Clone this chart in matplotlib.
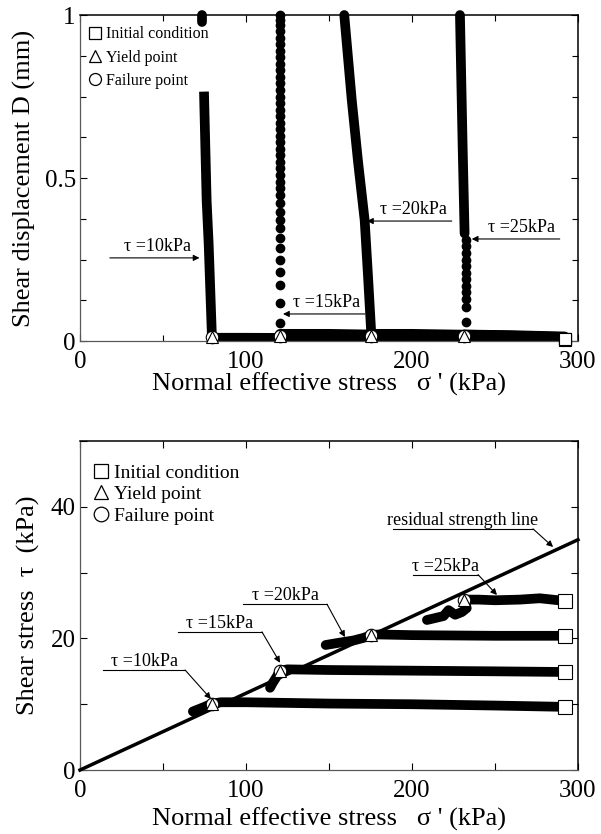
import numpy as np
import matplotlib
matplotlib.use("Agg")
import matplotlib.pyplot as plt
from matplotlib.lines import Line2D

plt.rcParams['font.family'] = ['Liberation Serif', 'DejaVu Serif']
plt.rcParams['mathtext.fontset'] = 'stix'

# ---- data ----
tau_levels = [10, 15, 20, 25]
init_sig = [292, 292, 292, 292]
init_tau = [9.6, 14.9, 20.4, 25.7]
init_D = [0.004, 0.006, 0.006, 0.006]
yield_sig = [79.5, 120.5, 175.5, 231.5]
yield_tau = [10.1, 15.1, 20.5, 25.9]
yield_D = [0.012, 0.014, 0.016, 0.016]

# top panel: consolidation part (D ~ 0)
h10_sig = [292, 250, 200, 150, 100, 79.5]
h10_D = [0.005, 0.006, 0.008, 0.009, 0.01, 0.01]
h15_sig = [292, 250, 200, 150, 120.5]
h15_D = [0.01, 0.014, 0.018, 0.022, 0.022]
h20_sig = [292, 250, 200, 175.5]
h20_D = [0.012, 0.018, 0.022, 0.022]
h25_sig = [292, 260, 231.5]
h25_D = [0.014, 0.018, 0.02]

# top panel: displacement after yield
v10_sig = [79.5, 77.5, 76.3, 74.7]
v10_D = [0.01, 0.3, 0.43, 0.765]
v10_top_sig = [73.3, 73.3]
v10_top_D = [0.98, 1.0]
v15_D = [0.055, 0.117, 0.172, 0.212, 0.248, 0.285, 0.316, 0.347, 0.371,
         0.396, 0.423, 0.448, 0.469, 0.488, 0.509, 0.531, 0.549, 0.571,
         0.59, 0.61, 0.63, 0.65, 0.67, 0.69, 0.71, 0.73, 0.75, 0.77,
         0.79, 0.81, 0.83, 0.85, 0.87, 0.89, 0.91, 0.93, 0.95, 0.97,
         0.985, 1.0]
v15_sig = np.full(len(v15_D), 120.5)
v20_sig = [175.5, 173.5, 171.5, 167.5, 163.7, 159.2]
v20_D = [0.02, 0.2, 0.37, 0.55, 0.74, 1.0]
v25_sig = [231.7, 230.5, 228.9]
v25_D = [0.33, 0.6, 1.0]
v25dot_D = [0.059, 0.105, 0.13, 0.15, 0.17, 0.19, 0.21, 0.23, 0.25,
            0.27, 0.29, 0.31]
v25dot_sig = np.full(len(v25dot_D), 232.5)

# bottom panel: stress paths
p10_sig = [292, 250, 200, 150, 100, 85, 79.5, 75, 71, 68]
p10_tau = [9.6, 9.8, 10.0, 10.1, 10.3, 10.3, 10.1, 9.6, 9.2, 8.9]
p15_sig = [292, 250, 200, 150, 125, 120.5, 118.5, 116, 114.5]
p15_tau = [14.9, 15.0, 15.1, 15.2, 15.3, 15.1, 14.2, 13.2, 12.5]
p20_sig = [292, 250, 200, 180, 175.5, 171, 165, 155, 148]
p20_tau = [20.4, 20.4, 20.5, 20.6, 20.5, 20.1, 19.7, 19.3, 19.0]
p25_sig = [292, 277, 265, 250, 240, 231.5, 233, 230, 226, 222, 219, 214, 209]
p25_tau = [25.7, 26.1, 25.9, 25.8, 25.9, 25.9, 24.6, 24.0, 23.6, 24.3,
           23.4, 23.1, 22.8]
res_sig = [0, 300]
res_tau = [0, 35]

fig = plt.figure(figsize=(6.01, 8.34), dpi=100)
ax1 = fig.add_axes([0.1331, 0.5911, 0.8286, 0.3909])
ax2 = fig.add_axes([0.1331, 0.0767, 0.8286, 0.3945])


def style_axes(ax):
    ax.tick_params(which='both', direction='in', top=True, right=True,
                   labelsize=18, width=0.8)
    ax.tick_params(which='major', length=5)
    ax.tick_params(which='minor', length=4)
    ax.tick_params(axis='x', pad=7)
    ax.tick_params(axis='y', pad=3)
    for s in ['left', 'bottom']:
        ax.spines[s].set_color('0.35')
        ax.spines[s].set_linewidth(0.9)
    for s in ['top', 'right']:
        ax.spines[s].set_color('k')
        ax.spines[s].set_linewidth(1.1)
    ax.set_xlim(0, 300)
    ax.set_xticks([0, 100, 200, 300])
    ax.set_xticks([50, 150, 250], minor=True)


def legend(ax, size, spacing, x0, y0):
    handles = [
        Line2D([], [], ls='none', marker='s', mfc='white', mec='k', ms=size * 0.7, mew=0.9),
        Line2D([], [], ls='none', marker='^', mfc='white', mec='k', ms=size * 0.75, mew=0.9),
        Line2D([], [], ls='none', marker='o', mfc='white', mec='k', ms=size * 0.75, mew=0.9),
    ]
    ax.legend(handles, ['Initial condition', 'Yield point', 'Failure point'],
              loc='upper left', bbox_to_anchor=(x0, y0), frameon=False,
              fontsize=size, handlelength=0.6, handletextpad=0.4,
              labelspacing=spacing, borderaxespad=0, borderpad=0)


def label_arrow(ax, text, x0, x1, y, head, size=13):
    # underline, then an arrow from its end to the curve
    ax.plot([x0, x1], [y, y], color='k', lw=0.8, zorder=6)
    ax.annotate('', xy=head, xytext=(x1, y),
                arrowprops=dict(arrowstyle='-|>', color='k', lw=0.8,
                                mutation_scale=9, shrinkA=0, shrinkB=0),
                zorder=6)
    ax.text((x0 + x1) / 2, y, text, ha='center', va='bottom', fontsize=size)


def flat_arrow(ax, text, tail, head, y, xtext, size=13):
    # horizontal arrow with the label sitting on it
    ax.annotate('', xy=(head, y), xytext=(tail, y),
                arrowprops=dict(arrowstyle='-|>', color='k', lw=0.8,
                                mutation_scale=9, shrinkA=0, shrinkB=0),
                zorder=6)
    ax.text(xtext, y + 0.008, text, ha='center', va='bottom', fontsize=size)


# ---- top panel ----
style_axes(ax1)
ax1.set_ylim(0, 1)
ax1.set_yticks([0, 0.5, 1])
ax1.set_yticklabels(['0', '0.5', '1'])
ax1.set_yticks(np.arange(0.125, 1, 0.125), minor=True)
ax1.set_ylabel('Shear displacement D (mm)', fontsize=19, labelpad=6)
ax1.set_xlabel("Normal effective stress   σ ' (kPa)", fontsize=19, labelpad=0)

lw_path = 7
for s, d in [(h10_sig, h10_D), (h15_sig, h15_D), (h20_sig, h20_D), (h25_sig, h25_D)]:
    ax1.plot(s, d, color='k', lw=lw_path, solid_capstyle='round', zorder=2)
ax1.plot(v10_sig, v10_D, color='k', lw=lw_path, solid_capstyle='butt', zorder=2)
ax1.plot(v10_top_sig, v10_top_D, color='k', lw=lw_path, solid_capstyle='round',
         zorder=2, clip_on=False)
ax1.plot(v15_sig, v15_D, ls='none', marker='o', color='k', ms=6, zorder=2,
         clip_on=False)
ax1.plot(v20_sig, v20_D, color='k', lw=lw_path, solid_capstyle='round', zorder=2,
         clip_on=False)
ax1.plot(v25_sig, v25_D, color='k', lw=lw_path, solid_capstyle='round', zorder=2,
         clip_on=False)
ax1.plot(v25dot_sig, v25dot_D, ls='none', marker='o', color='k', ms=6, zorder=2)

ax1.plot(yield_sig, yield_D, ls='none', marker='o', mfc='white', mec='k',
         ms=9, mew=0.8, zorder=4, clip_on=False)
ax1.plot(yield_sig, yield_D, ls='none', marker='^', mfc='white', mec='k',
         ms=8, mew=0.8, zorder=5, clip_on=False)
ax1.plot(init_sig, init_D, ls='none', marker='s', mfc='white', mec='k',
         ms=9, mew=0.8, zorder=5, clip_on=False)

flat_arrow(ax1, 'τ =10kPa', 18, 72, 0.255, 46.4)
flat_arrow(ax1, 'τ =15kPa', 171.7, 122.3, 0.083, 148.8)
flat_arrow(ax1, 'τ =20kPa', 224, 172.9, 0.368, 200.6)
flat_arrow(ax1, 'τ =25kPa', 289, 236, 0.313, 266)
legend(ax1, 11.5, 0.45, 0.02, 0.965)

# ---- bottom panel ----
style_axes(ax2)
ax2.set_ylim(0, 50)
ax2.set_yticks([0, 20, 40])
ax2.set_yticks([10, 30, 50], minor=True)
ax2.tick_params(which='minor', length=5)
ax2.set_ylabel('Shear stress  τ  (kPa)', fontsize=19, labelpad=8)
ax2.set_xlabel("Normal effective stress   σ ' (kPa)", fontsize=19, labelpad=4)

ax2.plot(res_sig, res_tau, color='k', lw=2.5, zorder=3, clip_on=False)
for s, t in [(p10_sig, p10_tau), (p15_sig, p15_tau), (p20_sig, p20_tau), (p25_sig, p25_tau)]:
    ax2.plot(s, t, color='k', lw=lw_path, solid_capstyle='round',
             solid_joinstyle='round', zorder=2)

ax2.plot(yield_sig, yield_tau, ls='none', marker='o', mfc='white', mec='k',
         ms=9, mew=0.8, zorder=4)
ax2.plot(yield_sig, yield_tau, ls='none', marker='^', mfc='white', mec='k',
         ms=8, mew=0.8, zorder=5)
ax2.plot(init_sig, init_tau, ls='none', marker='s', mfc='white', mec='k',
         ms=10, mew=0.8, zorder=5)

label_arrow(ax2, 'τ =10kPa', 13.9, 63.3, 15.2, (78.9, 10.8))
label_arrow(ax2, 'τ =15kPa', 59, 109.6, 21.0, (120.5, 16.3))
label_arrow(ax2, 'τ =20kPa', 98.2, 148.8, 25.2, (159.6, 20.2))
label_arrow(ax2, 'τ =25kPa', 200.6, 239.8, 29.7, (251.2, 26.6))
label_arrow(ax2, 'residual strength line', 188.6, 272.9, 36.65, (285, 33.9))
legend(ax2, 14, 0.2, 0.03, 0.93)

fig.savefig('out.png', dpi=100)
